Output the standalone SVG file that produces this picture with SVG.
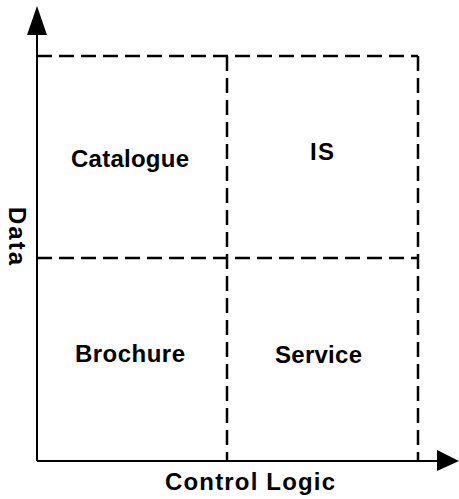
<svg xmlns="http://www.w3.org/2000/svg" width="459" height="499" viewBox="0 0 459 499">
<style>
.axis{stroke:#000;stroke-width:2;fill:none}
.dash{stroke:#000;stroke-width:2.5;fill:none;stroke-dasharray:15 7}
.lbl{font-family:"Liberation Sans",Arial,sans-serif;font-weight:bold;font-size:24px;fill:#000;text-anchor:middle}
</style>
<rect width="459" height="499" fill="#fff"/>
<g id="connectors">
<line class="axis" x1="37" y1="461" x2="37" y2="30"/>
<polygon points="37,6 27,35 47,35" fill="#000"/>
<line class="axis" x1="37" y1="461" x2="440" y2="461"/>
<polygon points="459,461 437,450 437,471" fill="#000"/>
<line class="dash" x1="37" y1="56" x2="418" y2="56"/>
<line class="dash" x1="37" y1="258" x2="418" y2="258"/>
<line class="dash" x1="227" y1="56" x2="227" y2="461"/>
<line class="dash" x1="418" y1="56" x2="418" y2="461"/>
</g>
<g id="catalogue"><text class="lbl" x="130" y="167" textLength="118" lengthAdjust="spacing">Catalogue</text></g>
<g id="is"><text class="lbl" x="322" y="160" textLength="24" lengthAdjust="spacing">IS</text></g>
<g id="brochure"><text class="lbl" x="130" y="362" textLength="110" lengthAdjust="spacing">Brochure</text></g>
<g id="service"><text class="lbl" x="318.5" y="363" textLength="87" lengthAdjust="spacing">Service</text></g>
<g id="data-label"><text class="lbl" transform="translate(9,236) rotate(90)" x="0" y="0" textLength="58" lengthAdjust="spacing">Data</text></g>
<g id="control-logic-label"><text class="lbl" x="250" y="490" textLength="170" lengthAdjust="spacing">Control Logic</text></g>
</svg>
